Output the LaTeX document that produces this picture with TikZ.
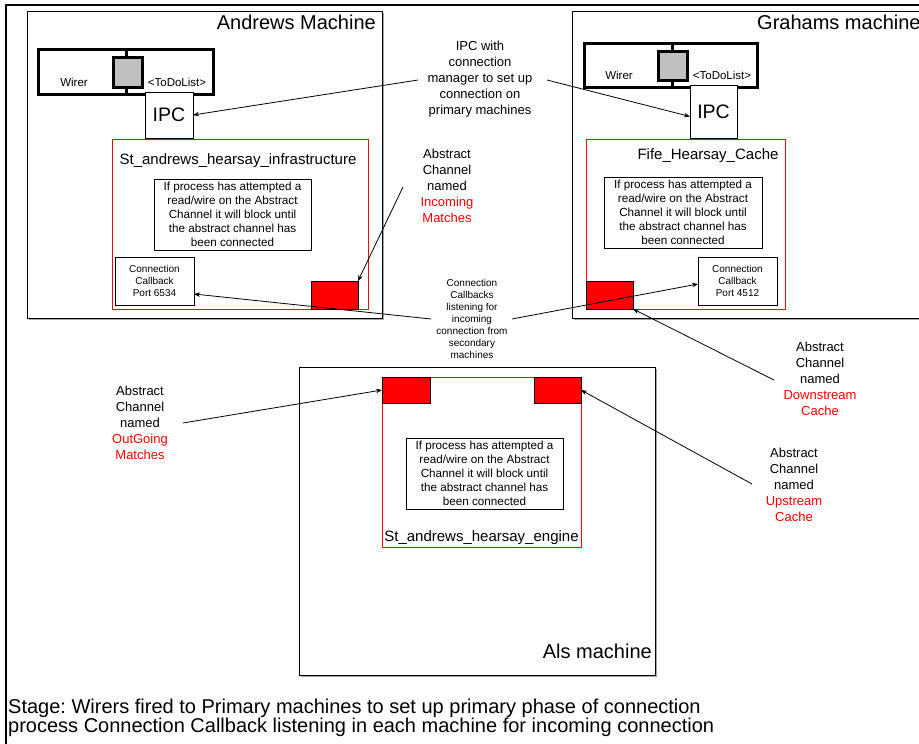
\documentclass[tikz,border=0pt]{standalone}
\usepackage{fontspec}
\setmainfont{Liberation Sans}
\usetikzlibrary{arrows.meta}
\frenchspacing
\definecolor{boxgrey}{HTML}{C0C0C0}
\definecolor{pured}{HTML}{FF0000}
\newcommand\fTitle{\fontsize{20}{24}\selectfont}
\newcommand\fIPC{\fontsize{19.5}{22}\selectfont}
\newcommand\fProc{\fontsize{15}{18}\selectfont}
\newcommand\fBody{\fontsize{11.7}{14}\selectfont}
\newcommand\fCb{\fontsize{10}{12}\selectfont}
\newcommand\fWire{\fontsize{11.5}{14}\selectfont}
\newcommand\fLab{\fontsize{13}{16}\selectfont}
% box node: name, style, x1, y1, x2, y2, text
\newcommand\bx[7]{\node[#2, minimum width={#5-#3}, minimum height={#6-#4}, inner sep=0pt, outer sep=0pt, anchor=north west] (#1) at (#3,#4) {#7};}
\tikzset{
  machine/.style={draw=black, line width=1pt, fill=white},
  shadowbox/.style={fill=gray!70, draw=none},
  wirerbox/.style={draw=black, line width=3pt},
  greysq/.style={draw=black, line width=3pt, fill=boxgrey},
  ipcbox/.style={draw=black, line width=0.9pt, fill=white, font=\fIPC},
  procbox/.style={draw=pured, line width=1pt},
  textbox/.style={draw=black, line width=1pt, fill=white, align=center, font=\fBody},
  cbbox/.style={draw=black, line width=1pt, fill=white, align=center, font=\fCb},
  chan/.style={draw=black, line width=0.9pt, fill=pured},
  lab/.style={align=center, font=\fLab, inner sep=0pt},
  conn/.style={-{Stealth[length=6pt,width=4.5pt]}, line width=0.8pt, draw=black},
}
\begin{document}
\begin{tikzpicture}[x=1pt,y=-1pt]
\useasboundingbox (0,0) rectangle (919,744);
\clip (0,0) rectangle (919,744);
\fill[white] (0,0) rectangle (919,744);
% outer frame
\draw[line width=2.5pt] (6,5) rectangle (960,780);

% ---------------- Andrews machine
\fill[shadowbox] (29,13) rectangle (384,320);
\bx{andrews}{machine}{27}{11}{382}{318}{}
\node[font=\fTitle, anchor=base east, inner sep=0pt] (andrewsT) at (376,29) {Andrews Machine};
\bx{wirerA}{wirerbox}{38}{49}{213}{94}{}
\draw[line width=3pt] (wirerA.north -| 126,0) -- (wirerA.south -| 126,0);
\bx{sqA}{greysq}{113}{57}{142}{87}{}
\node[font=\fWire, anchor=base, inner sep=0pt] (wirerAT) at (74,86) {Wirer};
\node[font=\fWire, anchor=base, inner sep=0pt] (todoA) at (177,86) {<ToDoList>};
\bx{ipcA}{ipcbox}{145}{92}{193}{138}{IPC}
\bx{infra}{procbox}{112}{139}{368}{309}{}
\node[font=\fProc, anchor=base, inner sep=0pt] (infraT) at (238,164) {St\_andrews\_hearsay\_infrastructure};
\bx{tbA}{textbox}{154}{179}{311}{250}{If process has attempted a\\read/wire on the Abstract\\Channel it will block until\\the abstract channel has\\been connected}
\bx{cbA}{cbbox}{115}{257}{194}{305}{Connection\\Callback\\Port 6534}
\bx{redA}{chan}{311}{281}{358}{309}{}

% ---------------- Grahams machine
\fill[shadowbox] (574,13) rectangle (960,320);
\bx{grahams}{machine}{572}{11}{950}{318}{}
\node[font=\fTitle, anchor=base west, inner sep=0pt] (grahamsT) at (757,29) {Grahams machine};
\bx{wirerG}{wirerbox}{584}{43}{757}{87}{}
\draw[line width=3pt] (wirerG.north -| 672,0) -- (wirerG.south -| 672,0);
\bx{sqG}{greysq}{658}{51}{687}{80}{}
\node[font=\fWire, anchor=base, inner sep=0pt] (wirerGT) at (619,79) {Wirer};
\node[font=\fWire, anchor=base, inner sep=0pt] (todoG) at (722,79) {<ToDoList>};
\bx{ipcG}{ipcbox}{690}{85}{737}{138}{IPC}
\bx{fife}{procbox}{586}{139}{785}{309}{}
\node[font=\fProc, anchor=base, inner sep=0pt] (fifeT) at (708,159) {Fife\_Hearsay\_Cache};
\bx{tbG}{textbox}{604}{177}{762}{248}{If process has attempted a\\read/wire on the Abstract\\Channel it will block until\\the abstract channel has\\been connected}
\bx{cbG}{cbbox}{698}{257}{777}{305}{Connection\\Callback\\Port 4512}
\bx{redG}{chan}{586}{281}{633}{309}{}

% ---------------- Als machine
\fill[shadowbox] (301,369) rectangle (657,677);
\bx{als}{machine}{299}{367}{655}{675}{}
\node[font=\fTitle, anchor=base east, inner sep=0pt] (alsT) at (652,658) {Als machine};
\bx{engine}{procbox}{382}{377}{581}{547}{}
\node[font=\fProc, anchor=base, inner sep=0pt] (engineT) at (481.5,541) {St\_andrews\_hearsay\_engine};
\bx{redL}{chan}{382}{377}{430}{403}{}
\bx{redR}{chan}{534}{377}{581}{403}{}
\bx{tbE}{textbox}{406}{438}{563}{509}{If process has attempted a\\read/wire on the Abstract\\Channel it will block until\\the abstract channel has\\been connected}

% ---------------- labels
\node[lab] (lblIPC) at (480,79) {IPC with\\connection\\manager to set up\\connection on\\primary machines};
\node[lab] (lblIn) at (447,186) {Abstract\\Channel\\named\\\textcolor{pured}{Incoming}\\\textcolor{pured}{Matches}};
\node[align=center, font=\fCb, inner sep=0pt] (lblCb) at (472,319) {Connection\\Callbacks\\listening for\\incoming\\connection from\\secondary\\machines};
\node[lab] (lblOut) at (140,423) {Abstract\\Channel\\named\\\textcolor{pured}{OutGoing}\\\textcolor{pured}{Matches}};
\node[lab] (lblDown) at (820,379) {Abstract\\Channel\\named\\\textcolor{pured}{Downstream}\\\textcolor{pured}{Cache}};
\node[lab] (lblUp) at (794,485) {Abstract\\Channel\\named\\\textcolor{pured}{Upstream}\\\textcolor{pured}{Cache}};

% free ends of connectors
\coordinate (sIPCl) at (418,80);
\coordinate (sIPCr) at (547,80);
\coordinate (sIn) at (403,187);
\coordinate (sCbl) at (431,319);
\coordinate (sCbr) at (512,319);
\coordinate (sOut) at (183,423);
\coordinate (sDown) at (774,380);
\coordinate (sUp) at (752,484);

% connectors
\draw[conn] (sIPCl) -- (ipcA.east);
\draw[conn] (sIPCr) -- ([yshift=-5pt]ipcG.west);
\draw[conn] (sIn) -- (redA.north east);
\draw[conn] (sCbl) -- ([yshift=-13pt]cbA.east);
\draw[conn] (sCbr) -- ([yshift=-3pt]cbG.west);
\draw[conn] (sOut) -- (redL.west);
\draw[conn] (sDown) -- (redG.south east);
\draw[conn] (sUp) -- (redR.east);

% ---------------- caption
\node[font=\fTitle, anchor=base west, inner sep=0pt] (cap1) at (8,713) {Stage: Wirers fired to Primary machines to set up primary phase of connection};
\node[font=\fTitle, anchor=base west, inner sep=0pt] (cap2) at (8,732) {process Connection Callback listening in each machine for incoming connection};
\end{tikzpicture}
\end{document}
